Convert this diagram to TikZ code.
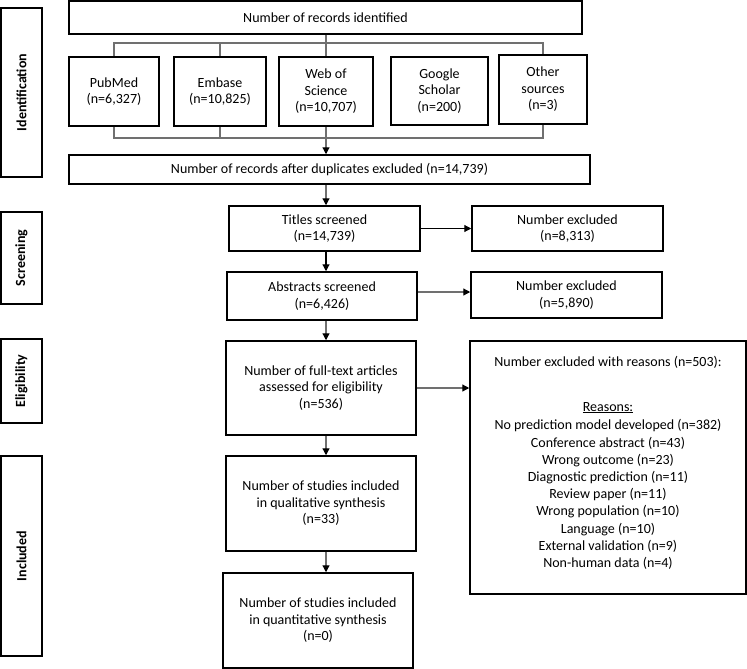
\documentclass[tikz,border=0pt]{standalone}
\usepackage{fontspec}
\setmainfont{Carlito}
\usetikzlibrary{arrows.meta}
\definecolor{conn}{HTML}{707070}
\tikzset{
  x=1pt, y=-1pt,
  box/.style={draw=black, line width=1.5pt, align=center, inner sep=0pt,
    font=\fontsize{14}{16.5}\selectfont},
  lab/.style={box, font=\fontsize{14}{16.5}\selectfont\bfseries},
  labtext/.style={rotate=90, font=\fontsize{14}{16.5}\selectfont\bfseries},
  ln/.style={draw=conn, line width=1.2pt},
  arr/.style={ln, -{Triangle[length=7pt,width=7pt,color=black]}},
  arrk/.style={draw=black, line width=1.2pt, -{Triangle[length=7pt,width=7pt,color=black]}},
}
\begin{document}
\begin{tikzpicture}
\useasboundingbox (0,0) rectangle (747,669);
% stage labels
\node[lab, minimum width=41pt, minimum height=169pt] (lid) at (21.5,92.5) {};
\node[labtext] (tid) at (lid.center) {Identification};
\node[lab, minimum width=41pt, minimum height=92pt] (lsc) at (21.5,258) {};
\node[labtext] (tsc) at (lsc.center) {Screening};
\node[lab, minimum width=41pt, minimum height=84pt] (lel) at (21.5,381) {};
\node[labtext] (tel) at (lel.center) {Eligibility};
\node[lab, minimum width=41pt, minimum height=200pt] (lin) at (21.5,556) {};
\node[labtext] (tin) at (lin.center) {Included};
% identification
\node[box, minimum width=513pt, minimum height=33pt] (top) at (325.5,17.5) {Number of records identified};
\node[box, minimum width=90pt, minimum height=69pt] (pub) at (114,91.5) {PubMed\\(n=6,327)};
\node[box, minimum width=92pt, minimum height=69pt] (emb) at (220,91.5) {Embase\\(n=10,825)};
\node[box, minimum width=94pt, minimum height=69pt] (wos) at (326,91.5) {Web of\\Science\\(n=10,707)};
\node[box, minimum width=97pt, minimum height=68pt] (gs) at (439.5,91) {Google\\Scholar\\(n=200)};
\node[box, minimum width=88pt, minimum height=69pt] (oth) at (543,89.5) {Other\\sources\\(n=3)};
\node[box, minimum width=521pt, minimum height=29pt] (dup) at (329.5,169.5) {Number of records after duplicates excluded (n=14,739)};
% screening
\node[box, minimum width=191pt, minimum height=45pt] (tit) at (324.5,228.5) {Titles screened\\(n=14,739)};
\node[box, minimum width=191pt, minimum height=45pt] (ex1) at (567.5,228.5) {Number excluded\\(n=8,313)};
\node[box, minimum width=190pt, minimum height=48pt] (abs) at (322,296) {Abstracts screened\\(n=6,426)};
\node[box, minimum width=191pt, minimum height=46pt] (ex2) at (566.5,295) {Number excluded\\(n=5,890)};
% eligibility
\node[box, minimum width=190pt, minimum height=94pt] (ft) at (321,388) {Number of full-text articles\\assessed for eligibility\\(n=536)};
\node[box, minimum width=276pt, minimum height=253pt] (rea) at (608,467.5) {};
\node[align=center, inner sep=0pt, font=\fontsize{14}{17.2}\selectfont] (reat) at (608,463) {Number excluded with reasons (n=503):\\[27pt]
\underline{Reasons:}\\[1.5pt]
No prediction model developed (n=382)\\
Conference abstract (n=43)\\
Wrong outcome (n=23)\\
Diagnostic prediction (n=11)\\
Review paper (n=11)\\
Wrong population (n=10)\\
Language (n=10)\\
External validation (n=9)\\
Non-human data (n=4)};
% included
\node[box, minimum width=190pt, minimum height=95pt] (qual) at (321,503.5) {Number of studies included\\in qualitative synthesis\\(n=33)};
\node[box, minimum width=190pt, minimum height=95pt] (quan) at (318,620.5) {Number of studies included\\in quantitative synthesis\\(n=0)};
% bracket connectors
\coordinate (bt) at (wos.center |- 0,43);
\coordinate (bb) at (wos.center |- 0,138);
\draw[ln] (pub.north) -- (pub.north |- bt) -- (oth.north |- bt) -- (oth.north);
\draw[ln] (emb.north) -- (emb.north |- bt);
\draw[ln] (top.south -| wos.north) -- (wos.north);
\draw[ln] (pub.south) -- (pub.south |- bb) -- (oth.south |- bb) -- (oth.south);
\draw[ln] (emb.south) -- (emb.south |- bb);
\draw[arr] (wos.south) -- (dup.north -| wos.south);
% flow arrows
\draw[arr] (dup.south -| wos.center) -- (tit.north -| wos.center);
\draw[arrk] (tit.south -| wos.center) -- (abs.north -| wos.center);
\draw[arr] (abs.south -| wos.center) -- (ft.north -| wos.center);
\draw[arr] (ft.south -| wos.center) -- (qual.north -| wos.center);
\draw[arr] (qual.south -| wos.center) -- (quan.north -| wos.center);
\draw[arrk] (tit.east) -- (ex1.west |- tit.east);
\draw[arr] (abs.east |- 0,292) -- (ex2.west |- 0,292);
\draw[arr] (ft.east) -- (rea.west |- ft.east);
\end{tikzpicture}
\end{document}
